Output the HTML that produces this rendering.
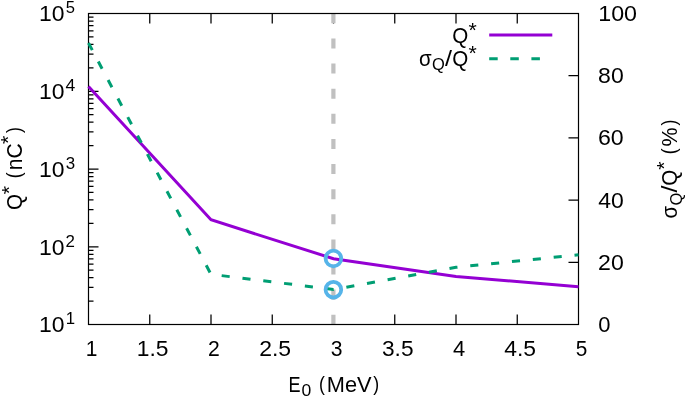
<!DOCTYPE html>
<html><head><meta charset="utf-8"><style>
html,body{margin:0;padding:0;background:#fff;width:685px;height:399px;overflow:hidden}
svg{display:block;will-change:transform}
</style></head><body><svg width="685" height="399" viewBox="0 0 685 399"><rect x="0" y="0" width="685" height="399" fill="#fff"/><path d="M149.75 324.5v-10M149.75 13.5v10M211.00 324.5v-10M211.00 13.5v10M272.25 324.5v-10M272.25 13.5v10M333.50 13.5v10M394.75 324.5v-10M394.75 13.5v10M456.00 324.5v-10M456.00 13.5v10M517.25 324.5v-10M517.25 13.5v10M88.5 301.09h5M88.5 287.40h5M88.5 277.69h5M88.5 270.16h5M88.5 264.00h5M88.5 258.79h5M88.5 254.28h5M88.5 250.31h5M88.5 246.75h10M88.5 223.34h5M88.5 209.65h5M88.5 199.94h5M88.5 192.41h5M88.5 186.25h5M88.5 181.04h5M88.5 176.53h5M88.5 172.56h5M88.5 169.00h10M88.5 145.59h5M88.5 131.90h5M88.5 122.19h5M88.5 114.66h5M88.5 108.50h5M88.5 103.29h5M88.5 98.78h5M88.5 94.81h5M88.5 91.25h10M88.5 67.84h5M88.5 54.15h5M88.5 44.44h5M88.5 36.91h5M88.5 30.75h5M88.5 25.54h5M88.5 21.03h5M88.5 17.06h5M578.5 262.30h-10M578.5 200.10h-10M578.5 137.90h-10M578.5 75.70h-10" stroke="#000" stroke-width="1.25" fill="none"/><line x1="333.4" y1="13.3" x2="333.4" y2="324.5" stroke="#c0c0c0" stroke-width="4.2" stroke-dasharray="10.05 15.07"/><rect x="88.5" y="13.5" width="490.0" height="311.0" stroke="#000" stroke-width="1.2" fill="none"/><polyline points="88.50,86.40 211.00,219.80 333.50,258.70 456.00,276.50 578.50,286.70" stroke="#9400d3" stroke-width="3" fill="none"/><polyline points="88.50,43.00 211.00,274.30 333.50,289.50 456.00,267.30 578.50,254.80" stroke="#009e73" stroke-width="3" fill="none" stroke-dasharray="8.1 12.86"/><circle cx="333.4" cy="258.5" r="7.8" stroke="#56b4e9" stroke-width="3.8" fill="none"/><circle cx="333.4" cy="289.7" r="7.8" stroke="#56b4e9" stroke-width="3.8" fill="none"/><line x1="489.2" y1="35.05" x2="552.3" y2="35.05" stroke="#9400d3" stroke-width="3.1"/><line x1="489.2" y1="58.8" x2="551.5" y2="58.8" stroke="#009e73" stroke-width="3" stroke-dasharray="8.5 12.6"/><g font-family='"Liberation Sans", sans-serif' fill="#000"><text transform="translate(40.69 0) scale(1.038 1) translate(-40.69 0)" x="39.01" y="332.00" font-size="22.09">10</text><text transform="translate(66.96 0) scale(0.982 1) translate(-66.96 0)" x="65.67" y="324.00" font-size="17.10">1</text><text transform="translate(40.69 0) scale(1.038 1) translate(-40.69 0)" x="39.01" y="255.00" font-size="22.09">10</text><text transform="translate(66.35 0) scale(0.990 1) translate(-66.35 0)" x="65.49" y="247.00" font-size="17.10">2</text><text transform="translate(40.69 0) scale(1.038 1) translate(-40.69 0)" x="39.01" y="177.00" font-size="22.09">10</text><text transform="translate(66.40 0) scale(0.988 1) translate(-66.40 0)" x="65.75" y="169.00" font-size="17.10">3</text><text transform="translate(40.69 0) scale(1.038 1) translate(-40.69 0)" x="39.01" y="99.00" font-size="22.09">10</text><text transform="translate(65.95 0) scale(1.028 1) translate(-65.95 0)" x="65.55" y="91.00" font-size="17.10">4</text><text transform="translate(40.69 0) scale(1.038 1) translate(-40.69 0)" x="39.01" y="21.00" font-size="22.09">10</text><text transform="translate(66.41 0) scale(0.971 1) translate(-66.41 0)" x="65.73" y="13.00" font-size="17.10">5</text><text transform="translate(599.08 0) scale(0.995 1) translate(-599.08 0)" x="598.21" y="332.00" font-size="22.09">0</text><text transform="translate(599.22 0) scale(1.045 1) translate(-599.22 0)" x="598.12" y="270.00" font-size="22.09">20</text><text transform="translate(598.72 0) scale(1.040 1) translate(-598.72 0)" x="598.21" y="208.00" font-size="22.09">40</text><text transform="translate(599.16 0) scale(1.049 1) translate(-599.16 0)" x="598.03" y="145.00" font-size="22.09">60</text><text transform="translate(599.12 0) scale(1.043 1) translate(-599.12 0)" x="598.17" y="83.00" font-size="22.09">80</text><text transform="translate(599.99 0) scale(1.053 1) translate(-599.99 0)" x="598.31" y="21.00" font-size="22.09">100</text><text transform="translate(87.26 0) scale(0.950 1) translate(-87.26 0)" x="85.58" y="356.00" font-size="22.09">1</text><text transform="translate(138.56 0) scale(1.034 1) translate(-138.56 0)" x="136.89" y="356.00" font-size="22.09">1.5</text><text transform="translate(208.99 0) scale(0.958 1) translate(-208.99 0)" x="207.88" y="356.00" font-size="22.09">2</text><text transform="translate(260.29 0) scale(1.040 1) translate(-260.29 0)" x="259.19" y="356.00" font-size="22.09">2.5</text><text transform="translate(331.55 0) scale(0.956 1) translate(-331.55 0)" x="330.71" y="356.00" font-size="22.09">3</text><text transform="translate(382.86 0) scale(1.028 1) translate(-382.86 0)" x="382.02" y="356.00" font-size="22.09">3.5</text><text transform="translate(453.49 0) scale(0.994 1) translate(-453.49 0)" x="452.98" y="356.00" font-size="22.09">4</text><text transform="translate(504.79 0) scale(1.036 1) translate(-504.79 0)" x="504.28" y="356.00" font-size="22.09">4.5</text><text transform="translate(576.57 0) scale(0.940 1) translate(-576.57 0)" x="575.69" y="356.00" font-size="22.09">5</text><text transform="translate(290.00 0) scale(0.818 1) translate(-290.00 0)" x="288.19" y="392.00" font-size="22.09">E</text><text transform="translate(302.23 0) scale(1.028 1) translate(-302.23 0)" x="301.56" y="396.00" font-size="17.10">0</text><text transform="translate(320.16 390.63) scale(0.798 0.902) translate(-320.16 -392.00)" x="318.79" y="392.00" font-size="22.09">(</text><text transform="translate(328.55 0) scale(0.986 1) translate(-328.55 0)" x="326.74" y="392.00" font-size="22.09">MeV</text><text transform="translate(373.25 390.63) scale(0.798 0.902) translate(-373.25 -392.00)" x="373.12" y="392.00" font-size="22.09">)</text><text transform="translate(453.17 0) scale(0.933 1) translate(-453.17 0)" x="452.13" y="43.00" font-size="22.09">Q</text><text transform="translate(472.65 26.75) scale(1.245 1.133)" x="-3.33" y="8.76" font-size="17.10">*</text><text transform="translate(419.79 0) scale(0.927 1) translate(-419.79 0)" x="418.86" y="66.00" font-size="22.09">σ</text><text transform="translate(432.78 0) scale(0.964 1) translate(-432.78 0)" x="431.98" y="70.00" font-size="17.10">Q</text><text transform="translate(444.98 0) scale(1.144 1) translate(-444.98 0)" x="444.98" y="66.00" font-size="22.09">/</text><text transform="translate(453.17 0) scale(0.933 1) translate(-453.17 0)" x="452.13" y="66.00" font-size="22.09">Q</text><text transform="translate(472.65 50.35) scale(1.245 1.133)" x="-3.33" y="8.76" font-size="17.10">*</text></g><g font-family='"Liberation Sans", sans-serif' fill="#000" transform="translate(22.3 210.3) rotate(-90)"><text transform="translate(1.17 0) scale(0.933 1) translate(-1.17 0)" x="0.13" y="0.00" font-size="22.09">Q</text><text transform="translate(20.30 -16.70) scale(1.245 1.133)" x="-3.33" y="8.76" font-size="17.10">*</text><text transform="translate(33.17 -1.37) scale(0.798 0.902) translate(-33.17 0.00)" x="31.80" y="0.00" font-size="22.09">(</text><text transform="translate(41.41 0) scale(0.954 1) translate(-41.41 0)" x="39.95" y="0.00" font-size="22.09">nC</text><text transform="translate(70.40 -17.20) scale(1.245 1.133)" x="-3.33" y="8.76" font-size="17.10">*</text><text transform="translate(77.29 -1.37) scale(0.798 0.902) translate(-77.29 0.00)" x="77.16" y="0.00" font-size="22.09">)</text></g><g font-family='"Liberation Sans", sans-serif' fill="#000" transform="translate(677.45 218.8) rotate(-90)"><text transform="translate(1.15 0) scale(0.927 1) translate(-1.15 0)" x="0.22" y="0.00" font-size="22.09">σ</text><text transform="translate(14.15 0) scale(0.964 1) translate(-14.15 0)" x="13.35" y="4.40" font-size="17.10">Q</text><text transform="translate(26.34 0) scale(1.144 1) translate(-26.34 0)" x="26.34" y="0.00" font-size="22.09">/</text><text transform="translate(34.09 0) scale(0.933 1) translate(-34.09 0)" x="33.05" y="0.00" font-size="22.09">Q</text><text transform="translate(53.15 -16.70) scale(1.245 1.133)" x="-3.33" y="8.76" font-size="17.10">*</text><text transform="translate(65.54 -1.37) scale(0.798 0.902) translate(-65.54 0.00)" x="64.17" y="0.00" font-size="22.09">(</text><text transform="translate(73.03 0) scale(0.969 1) translate(-73.03 0)" x="72.23" y="0.00" font-size="22.09">%</text><text transform="translate(93.36 -1.37) scale(0.798 0.902) translate(-93.36 0.00)" x="93.23" y="0.00" font-size="22.09">)</text></g></svg></body></html>
